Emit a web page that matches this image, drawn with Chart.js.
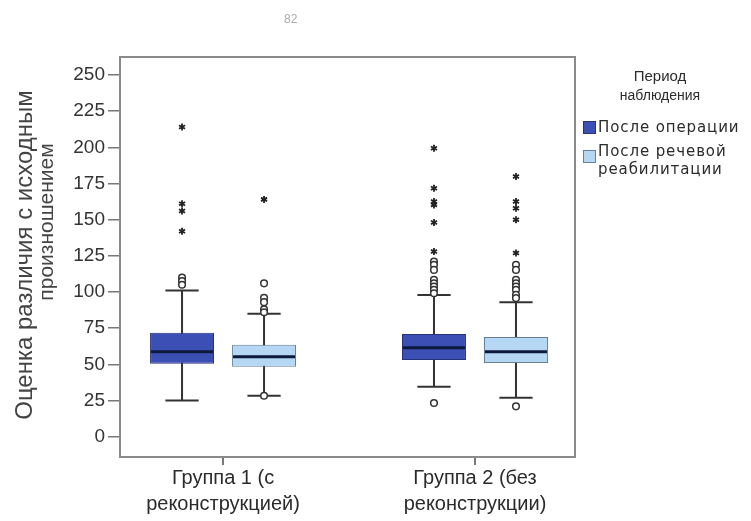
<!DOCTYPE html>
<html lang="ru">
<head>
<meta charset="utf-8">
<title>Оценка различия с исходным произношением</title>
<script src="https://cdn.jsdelivr.net/npm/chart.js@4.4.1/dist/chart.umd.min.js"></script>
<style>
    html, body { margin: 0; padding: 0; background: #fff; }
    #wrap { position: relative; width: 751px; height: 521px; font-family: "Liberation Sans", Arial, sans-serif; color: #2b2b2b; }
    #chart { position: absolute; left: 0; top: 0; }
    .page-num { position: absolute; left: 284px; top: 12px; font-size: 12px; color: #aaa; }
    .leg-title { position: absolute; left: 600px; top: 66px; width: 120px; text-align: center; font-size: 15px; line-height: 19px; }
    .leg-title .sub { font-size: 14px; }
    .sw { position: absolute; left: 583px; width: 13px; height: 13px; box-sizing: border-box; }
    .leg-text { position: absolute; left: 598px; font-family: "DejaVu Sans", sans-serif; font-size: 15px; letter-spacing: 0.9px; line-height: 18px; }
</style>
</head>
<body>
<div id="wrap">
    <canvas id="chart" width="751" height="521"></canvas>
    <div class="page-num">82</div>
    <div class="leg-title">Период<br><span class="sub">наблюдения</span></div>
    <div class="sw" id="sw0" style="top:121px"></div>
    <div class="leg-text" id="lt0" style="top:118px"></div>
    <div class="sw" id="sw1" style="top:150px"></div>
    <div class="leg-text" id="lt1" style="top:142px"></div>
</div>
<script>
// --- Data ---
const groupLabels = [['Группа 1 (с', 'реконструкцией)'], ['Группа 2 (без', 'реконструкции)']];
const groupPos = [1, 2];
const periodNames = ['После операции', ['После речевой', 'реабилитации']];
const yTicks = [0, 25, 50, 75, 100, 125, 150, 175, 200, 225, 250];
const yTitle = ['Оценка различия с исходным', 'произношением'];

// После операции
const opQ1 = [50.4, 53.0];
const opQ3 = [71.8, 71.0];
const opMedian = [58.7, 61.5];
const opLow = [25.0, 34.5];
const opHigh = [101.0, 98.0];
const opOutliers = [[110, 107.5, 105], [23.3, 121, 118.8, 115.3, 108.4, 106, 103.8, 101.5, 99.2]];
const opExtremes = [[214, 161, 156, 142], [199.4, 171.7, 162.5, 160.2, 148, 128]];

// После речевой реабилитации
const rehQ1 = [48.3, 51.0];
const rehQ3 = [63.5, 69.0];
const rehMedian = [55.2, 58.7];
const rehLow = [28.3, 27.0];
const rehHigh = [85.0, 93.0];
const rehOutliers = [[28.3, 106, 96, 93, 88, 86], [21, 118.8, 115.3, 108.4, 106, 103.8, 101.5, 98.1, 95.8]];
const rehExtremes = [[164], [179.8, 162.5, 157.9, 149.9, 126.9]];

const colors = ['#3c4fb4', '#b5d7f3'];
const borders = ['#26327a', '#64809c'];

const stats = [
    { q1: opQ1, q3: opQ3, med: opMedian, low: opLow, high: opHigh, out: opOutliers, ext: opExtremes },
    { q1: rehQ1, q3: rehQ3, med: rehMedian, low: rehLow, high: rehHigh, out: rehOutliers, ext: rehExtremes }
];

// Legend (HTML)
[0, 1].forEach(i => {
    const sw = document.getElementById('sw' + i);
    sw.style.background = colors[i];
    sw.style.border = '1px solid ' + borders[i];
    const name = periodNames[i];
    document.getElementById('lt' + i).innerHTML = Array.isArray(name) ? name.join('<br>') : name;
});

// Whiskers, medians, outliers, frame and y title
const boxParts = {
    id: 'boxParts',
    beforeDatasetsDraw(chart) {
        const ctx = chart.ctx;
        const y = chart.scales.y;
        ctx.save();
        ctx.strokeStyle = '#333';
        ctx.lineWidth = 2;
        stats.forEach((s, d) => {
            chart.getDatasetMeta(d).data.forEach((bar, i) => {
                const cap = bar.width * 0.26;
                const yl = y.getPixelForValue(s.low[i]);
                const yh = y.getPixelForValue(s.high[i]);
                ctx.beginPath();
                ctx.moveTo(bar.x, yl); ctx.lineTo(bar.x, yh);
                ctx.moveTo(bar.x - cap, yl); ctx.lineTo(bar.x + cap, yl);
                ctx.moveTo(bar.x - cap, yh); ctx.lineTo(bar.x + cap, yh);
                ctx.stroke();
            });
        });
        ctx.restore();
    },
    afterDatasetsDraw(chart) {
        const ctx = chart.ctx;
        const y = chart.scales.y;
        ctx.save();
        stats.forEach((s, d) => {
            chart.getDatasetMeta(d).data.forEach((bar, i) => {
                // median
                const ym = y.getPixelForValue(s.med[i]);
                ctx.strokeStyle = '#0d1a3c';
                ctx.lineWidth = 3;
                ctx.beginPath();
                ctx.moveTo(bar.x - bar.width / 2 + 1, ym);
                ctx.lineTo(bar.x + bar.width / 2 - 1, ym);
                ctx.stroke();
                // outliers (circles)
                ctx.strokeStyle = '#333';
                ctx.lineWidth = 1.5;
                s.out[i].forEach(v => {
                    ctx.beginPath();
                    ctx.arc(bar.x, y.getPixelForValue(v), 3.3, 0, Math.PI * 2);
                    ctx.fillStyle = '#fff';
                    ctx.fill();
                    ctx.stroke();
                });
                // extremes (stars)
                ctx.strokeStyle = '#222';
                ctx.lineWidth = 1.8;
                s.ext[i].forEach(v => {
                    const py = y.getPixelForValue(v);
                    ctx.beginPath();
                    for (let k = 0; k < 3; k++) {
                        const a = Math.PI / 2 + k * Math.PI / 3;
                        ctx.moveTo(bar.x - 3.5 * Math.cos(a), py - 3.5 * Math.sin(a));
                        ctx.lineTo(bar.x + 3.5 * Math.cos(a), py + 3.5 * Math.sin(a));
                    }
                    ctx.stroke();
                });
            });
        });
        ctx.restore();
    },
    afterDraw(chart) {
        const ctx = chart.ctx;
        const a = chart.chartArea;
        ctx.save();
        ctx.strokeStyle = '#8a8a8a';
        ctx.lineWidth = 2;
        ctx.strokeRect(a.left, a.top, a.right - a.left, a.bottom - a.top);
        // y axis title, two lines
        ctx.fillStyle = '#444';
        ctx.textAlign = 'center';
        ctx.textBaseline = 'middle';
        ctx.translate(25, 255);
        ctx.rotate(-Math.PI / 2);
        ctx.font = '24px "Liberation Sans", Arial, sans-serif';
        ctx.fillText(yTitle[0], 0, 0);
        ctx.font = '21px "Liberation Sans", Arial, sans-serif';
        ctx.fillText(yTitle[1], 33, 22);
        ctx.restore();
    }
};

const ctx = document.getElementById('chart').getContext('2d');
new Chart(ctx, {
    type: 'bar',
    data: {
        datasets: stats.map((s, d) => ({
            label: Array.isArray(periodNames[d]) ? periodNames[d].join(' ') : periodNames[d],
            data: groupPos.map((x, i) => ({ x: x, y: [s.q1[i], s.q3[i]] })),
            backgroundColor: colors[d],
            borderColor: borders[d],
            borderWidth: 1,
            borderSkipped: false,
            categoryPercentage: 0.651,
            barPercentage: 0.78
        }))
    },
    options: {
        responsive: false,
        animation: false,
        layout: { padding: { top: 57, right: 176, left: 0, bottom: 0 } },
        plugins: { legend: { display: false }, tooltip: { enabled: false } },
        scales: {
            x: {
                type: 'linear',
                offset: false,
                min: 0.591,
                max: 2.397,
                afterBuildTicks: (scale) => { scale.ticks = groupPos.map(v => ({ value: v })); },
                afterFit: (scale) => { scale.height = 64; },
                ticks: {
                    color: '#2b2b2b',
                    font: { family: '"Liberation Sans", Arial, sans-serif', size: 20, lineHeight: 1.3 },
                    padding: 0,
                    maxRotation: 0,
                    callback: (v) => groupLabels[groupPos.indexOf(v)]
                },
                grid: { display: true, offset: false, drawOnChartArea: false, drawTicks: true, tickLength: 8, color: '#777', lineWidth: 2 },
                border: { display: false }
            },
            y: {
                min: -14,
                max: 262.4,
                afterBuildTicks: (scale) => { scale.ticks = yTicks.map(v => ({ value: v })); },
                afterFit: (scale) => { scale.width = 120; },
                ticks: {
                    color: '#333',
                    font: { family: '"Liberation Sans", Arial, sans-serif', size: 19 },
                    padding: 3
                },
                grid: { display: true, drawOnChartArea: false, drawTicks: true, tickLength: 12, color: '#777', lineWidth: 1.5 },
                border: { display: false }
            }
        }
    },
    plugins: [boxParts]
});
</script>
</body>
</html>
